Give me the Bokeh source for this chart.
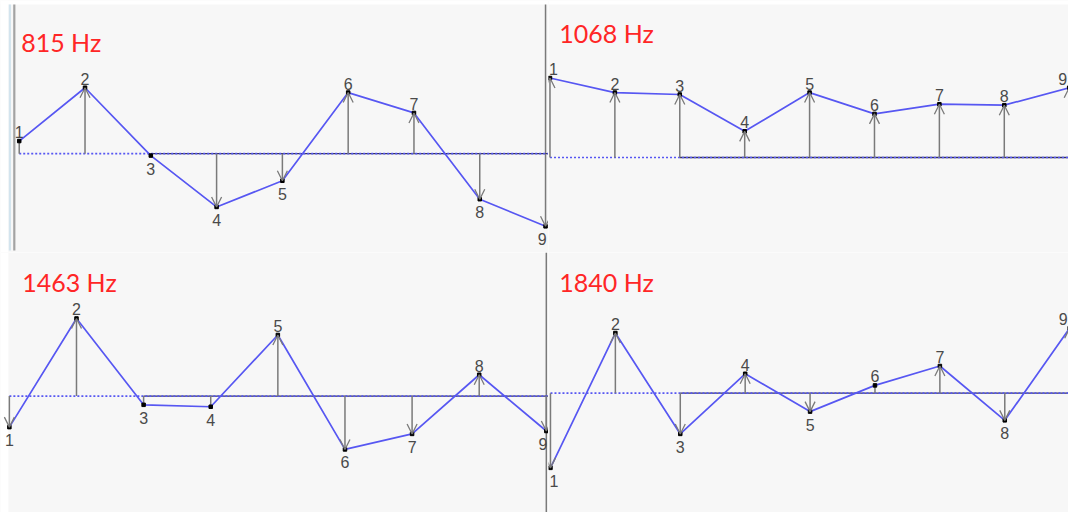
from bokeh.plotting import figure
from bokeh.layouts import gridplot
from bokeh.models import Range1d, ColumnDataSource, Arrow, OpenHead, Label
from bokeh.embed import file_html
from bokeh.resources import INLINE
from bokeh.core.properties import value

# ---------------- data ----------------
elements = [1, 2, 3, 4, 5, 6, 7, 8, 9]
freq_labels = ["815 Hz", "1068 Hz", "1463 Hz", "1840 Hz"]
amp_815 = [13, 68, -2, -55, -28, 63, 42, -47, -75]
amp_1068 = [82, 67, 65, 27, 67, 45, 55, 54, 72]
amp_1463 = [-32, 80, -9, -11, 63, -55, -39, 22, -36]
amp_1840 = [-77, 62, -42, 20, -19, 8, 28, -28, 67]

BG = "#f7f7f7"
BLUE = "#5757f2"
GRAY = "#7a7a7a"
LABEL_C = "#4a4a4a"
SX = 1068 / 1084
SY = 512 / 528


def panel(amps, width, height, W, H, a, dx, b, side, top, sep=None):
    x_start = 1 - a / dx
    x_end = 1 + (W - a) / dx
    y_lo, y_hi = -(H - b), b
    p = figure(width=width, height=height,
               x_range=Range1d(x_start, x_end), y_range=Range1d(y_lo, y_hi),
               output_backend="svg", toolbar_location=None, min_border=0,
               background_fill_color=BG, border_fill_color=BG,
               outline_line_color=None)
    p.axis.visible = False
    p.grid.visible = False

    if top:
        p.quad(left=[x_start], right=[x_end], bottom=[y_hi - 4], top=[y_hi],
               color="white", line_color=None)
    if side == "left":
        p.quad(left=[x_start], right=[x_start + 8 / dx], bottom=[y_lo], top=[y_hi],
               color="white", line_color=None)
        if top:
            for off, col in ((9.5, "#d3e4ee"), (14, "#a3a3a3")):
                xe = x_start + off / dx
                p.segment(x0=[xe], y0=[y_lo + 2], x1=[xe], y1=[y_hi - 4],
                          line_color=col, line_width=2.2)

    if sep == "top":
        p.segment(x0=[9], y0=[0], x1=[9], y1=[y_hi - 4], line_color=GRAY, line_width=1.5)
    elif sep == "full":
        p.segment(x0=[9], y0=[y_lo], x1=[9], y1=[y_hi], line_color=GRAY, line_width=1.5)

    # baseline: solid from element 3 on, dotted from element 1
    p.segment(x0=[3], y0=[0], x1=[x_end], y1=[0], line_color="#34345e", line_width=1.4)
    p.segment(x0=[1], y0=[0], x1=[x_end], y1=[0], line_color=BLUE,
              line_width=1.6, line_dash="2 2")

    big = [(e, v) for e, v in zip(elements, amps) if abs(v) >= 14]
    small = [(e, v) for e, v in zip(elements, amps) if 3 <= abs(v) < 14]
    if big:
        src = ColumnDataSource(dict(x0=[e for e, _ in big], y0=[0] * len(big),
                                    x1=[e for e, _ in big], y1=[v for _, v in big]))
        p.add_layout(Arrow(source=src, x_start="x0", y_start="y0", x_end="x1", y_end="y1",
                           line_color=GRAY, line_width=1.5,
                           end=OpenHead(size=10, line_color=GRAY, line_width=1.3)))
    if small:
        p.segment(x0=[e for e, _ in small], y0=[0] * len(small),
                  x1=[e for e, _ in small], y1=[v for _, v in small],
                  line_color=GRAY, line_width=1.5)

    p.line(elements, amps, line_color=BLUE, line_width=1.7)
    p.scatter(elements, amps, marker="square", size=3.5, color="black")

    def align(e):
        if e == 9:
            return "right"
        if e == 1 and side == "right":
            return "left"
        return "center"

    def xoff(e):
        if e == 9:
            return -2 if side == "right" else 1
        if e == 1 and side == "right":
            return -1
        return 0

    for sel, base, yo in ((lambda v: v > 0, "bottom", -3), (lambda v: v <= 0, "top", 7)):
        pts = [(e, v) for e, v in zip(elements, amps) if sel(v)]
        src = ColumnDataSource(dict(x=[e for e, _ in pts], y=[v for _, v in pts],
                                    t=[str(e) for e, _ in pts],
                                    al=[align(e) for e, _ in pts],
                                    xo=[xoff(e) for e, _ in pts]))
        p.text(x="x", y="y", text="t", source=src, text_align="al", x_offset="xo",
               text_baseline=base, y_offset=yo,
               text_font=value("Liberation Sans"), text_font_size="16px",
               text_color=LABEL_C)
    return p


tl = panel(amp_815, 548, 252, 556, 260, 19, 66.75, 158, "left", True, sep="top")
tr = panel(amp_1068, 520, 252, 528, 260, 1.5, 65.9, 162, "right", True)
bl = panel(amp_1463, 548, 260, 556, 268, 9, 68.1, 148, "left", False, sep="full")
br = panel(amp_1840, 520, 260, 528, 268, 2, 65.9, 145, "right", False)

for p, txt, lx, ty in ((tl, freq_labels[0], 21, 43), (tr, freq_labels[1], 11, 33),
                       (bl, freq_labels[2], 22, 30), (br, freq_labels[3], 11, 30)):
    p.add_layout(Label(x=lx * SX, y=p.height - ty * SY, x_units="screen", y_units="screen",
                       text=txt, text_color="#ff2626", text_font="Lato",
                       text_font_size="25px", text_baseline="middle"))

grid = gridplot([[tl, tr], [bl, br]], toolbar_location=None)

open("out.html", "w").write(file_html(grid, INLINE))
